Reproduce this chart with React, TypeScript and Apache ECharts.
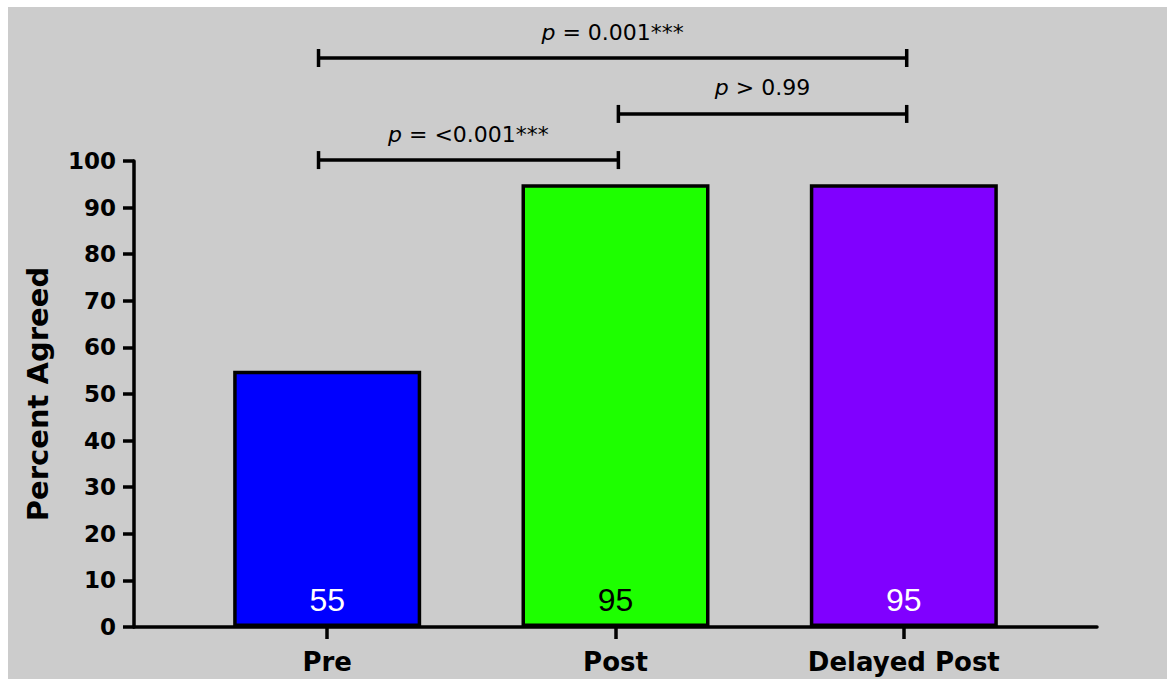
import React, { useEffect, useRef } from "react";
import * as echarts from "echarts";

// Groups on the x axis and the share of respondents who agreed in each.
const categories = ["Pre", "Post", "Delayed Post"];
const percentAgreed = [55, 95, 95];
const barColors = ["#0000FF", "#1EFF00", "#8000FF"];
const valueLabelColors = ["#FFFFFF", "#000000", "#FFFFFF"];

// Y axis ticks.
const yMin = 0;
const yMax = 100;
const yStep = 10;

// Pairwise comparison brackets: start / end on the x scale, height on the y scale.
const bracketStart = [-0.03, 1.01, -0.03];
const bracketEnd = [1.01, 2.01, 2.01];
const bracketLevel = [100.2, 110.1, 122.1];
const bracketPText = ["= <0.001***", "> 0.99", "= 0.001***"];

const SANS = "DejaVu Sans";

export default function App() {
  const ref = useRef<HTMLDivElement>(null);

  useEffect(() => {
    if (!ref.current) return;
    const chart = echarts.init(ref.current, null, { renderer: "svg" });

    const barData = percentAgreed.map((v, i) => ({
      value: [i, v],
      itemStyle: { color: barColors[i] },
      label: { color: valueLabelColors[i] },
    }));

    const bracketData = bracketStart.map((s, i) => [s, bracketEnd[i], bracketLevel[i], i]);

    chart.setOption({
      animation: false,
      backgroundColor: "#cccccc",
      grid: { left: 126, top: 154, right: 70, bottom: 52, containLabel: false },
      xAxis: {
        type: "value",
        min: -0.67,
        max: 2.67,
        splitLine: { show: false },
        axisLine: { show: true, onZero: false, lineStyle: { color: "#000", width: 3.5 } },
        axisTick: {
          show: true,
          customValues: [0, 1, 2],
          length: 12,
          lineStyle: { color: "#000", width: 3.5 },
        },
        axisLabel: {
          customValues: [0, 1, 2],
          formatter: (v: number) => categories[Math.round(v)] ?? "",
          color: "#000",
          fontFamily: SANS,
          fontWeight: "bold",
          fontSize: 26,
          margin: 22,
        },
      },
      yAxis: {
        type: "value",
        min: yMin,
        max: yMax,
        interval: yStep,
        name: "Percent Agreed",
        nameLocation: "middle",
        nameGap: 82,
        nameTextStyle: {
          color: "#000",
          fontFamily: SANS,
          fontWeight: "bold",
          fontSize: 29,
        },
        splitLine: { show: false },
        axisLine: { show: true, onZero: false, lineStyle: { color: "#000", width: 3.5 } },
        axisTick: { show: true, length: 11, lineStyle: { color: "#000", width: 3.5 } },
        axisLabel: {
          color: "#000",
          fontFamily: SANS,
          fontWeight: "bold",
          fontSize: 23,
          margin: 18,
        },
      },
      series: [
        {
          type: "bar",
          data: barData,
          barWidth: 188,
          itemStyle: { borderColor: "#000", borderWidth: 3.5 },
          label: {
            show: true,
            position: "insideBottom",
            distance: 11,
            fontFamily: "Liberation Sans",
            fontSize: 32,
            formatter: (p: any) => String(p.value[1]),
          },
        },
        {
          type: "custom",
          clip: false,
          encode: { x: [0, 1], y: 2 },
          data: bracketData,
          renderItem: (params: any, api: any) => {
            const x1 = api.value(0);
            const x2 = api.value(1);
            const lvl = api.value(2);
            const idx = api.value(3);
            const a = api.coord([x1, lvl]);
            const b = api.coord([x2, lvl]);
            const cap = 9;
            const ls = { stroke: "#000", lineWidth: 3.5 };
            return {
              type: "group",
              children: [
                { type: "line", shape: { x1: a[0], y1: a[1], x2: b[0], y2: b[1] }, style: ls },
                { type: "line", shape: { x1: a[0], y1: a[1] - cap, x2: a[0], y2: a[1] + cap }, style: ls },
                { type: "line", shape: { x1: b[0], y1: b[1] - cap, x2: b[0], y2: b[1] + cap }, style: ls },
                {
                  type: "text",
                  x: (a[0] + b[0]) / 2,
                  y: a[1] - 26,
                  style: {
                    text: "{i|p} " + bracketPText[idx],
                    align: "center",
                    verticalAlign: "middle",
                    fill: "#000",
                    font: `22px "${SANS}"`,
                    rich: {
                      i: { fontStyle: "italic", fontFamily: SANS, fontSize: 22, fill: "#000" },
                    },
                  },
                },
              ],
            };
          },
        },
      ],
    });

    return () => chart.dispose();
  }, []);

  return (
    <div
      ref={ref}
      style={{
        position: "absolute",
        left: 8,
        top: 7,
        width: 1159,
        height: 672,
        background: "#cccccc",
      }}
    />
  );
}
